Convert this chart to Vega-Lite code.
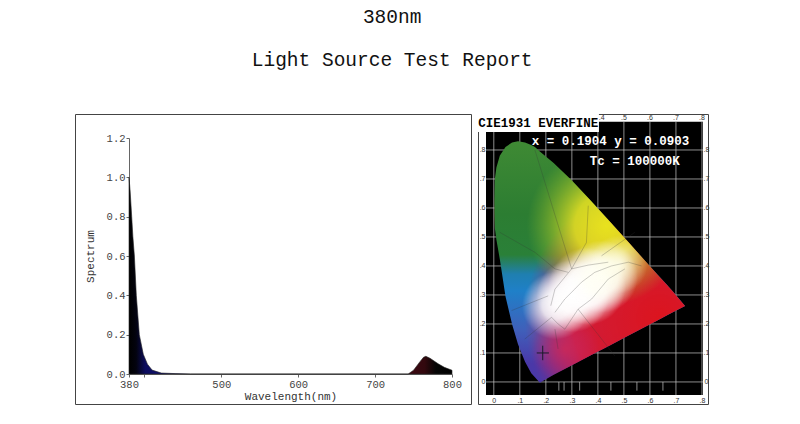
{
"$schema":"https://vega.github.io/schema/vega-lite/v6.json",
"background":"white",
"padding":{"left":74,"top":7,"right":0,"bottom":0},
"title":{"text":["380nm","Light Source Test Report"],"font":"Liberation Mono","fontSize":19.5,"fontWeight":"normal","color":"#111","lineHeight":43,"anchor":"middle","offset":43},
"config":{"view":{"stroke":"#444","strokeWidth":1}},
"spacing":5,
"datasets":{
"spectrum":[
{"wl":380,"v":1.0},{"wl":381.5,"v":0.93},{"wl":383.5,"v":0.8},{"wl":385,"v":0.7},{"wl":387,"v":0.6},{"wl":389.5,"v":0.4},{"wl":393.4,"v":0.2},{"wl":398.6,"v":0.1},{"wl":404,"v":0.05},{"wl":410,"v":0.02},{"wl":422,"v":0.005},{"wl":440,"v":0.002},{"wl":460,"v":0},{"wl":600,"v":0},{"wl":743,"v":0},{"wl":750,"v":0.019},{"wl":758.6,"v":0.064},{"wl":763,"v":0.085},{"wl":766,"v":0.09},{"wl":771.4,"v":0.08},{"wl":782,"v":0.052},{"wl":790,"v":0.034},{"wl":800,"v":0.019}],
"black":[{"x":-0.03,"x2":0.804,"y":-0.045,"y2":0.897}],
"box":[{"x":-0.062,"x2":0.404,"y":0.862,"y2":0.924}],
"grid":[
{"x":0,"x2":0,"y":-0.045,"y2":0.897},{"x":0.1,"x2":0.1,"y":-0.045,"y2":0.897},{"x":0.2,"x2":0.2,"y":-0.045,"y2":0.897},{"x":0.3,"x2":0.3,"y":-0.045,"y2":0.897},{"x":0.4,"x2":0.4,"y":-0.045,"y2":0.897},{"x":0.5,"x2":0.5,"y":-0.045,"y2":0.897},{"x":0.6,"x2":0.6,"y":-0.045,"y2":0.897},{"x":0.7,"x2":0.7,"y":-0.045,"y2":0.897},{"x":0.8,"x2":0.8,"y":-0.045,"y2":0.897},
{"x":-0.03,"x2":0.804,"y":0,"y2":0},{"x":-0.03,"x2":0.804,"y":0.1,"y2":0.1},{"x":-0.03,"x2":0.804,"y":0.2,"y2":0.2},{"x":-0.03,"x2":0.804,"y":0.3,"y2":0.3},{"x":-0.03,"x2":0.804,"y":0.4,"y2":0.4},{"x":-0.03,"x2":0.804,"y":0.5,"y2":0.5},{"x":-0.03,"x2":0.804,"y":0.6,"y2":0.6},{"x":-0.03,"x2":0.804,"y":0.7,"y2":0.7},{"x":-0.03,"x2":0.804,"y":0.8,"y2":0.8},
{"x":0.25,"x2":0.25,"y":0,"y2":-0.03},{"x":0.27,"x2":0.27,"y":0,"y2":-0.03},{"x":0.33,"x2":0.33,"y":0,"y2":-0.03},{"x":0.45,"x2":0.45,"y":0,"y2":-0.03},{"x":0.55,"x2":0.55,"y":0,"y2":-0.03},{"x":0.65,"x2":0.65,"y":0,"y2":-0.03}],
"locus":[
{"x":0.002,"y":0.62,"y2":0.58},{"x":0.004,"y":0.7,"y2":0.53},{"x":0.01,"y":0.74,"y2":0.49},{"x":0.023,"y":0.78,"y2":0.424},{"x":0.045,"y":0.81,"y2":0.295},{"x":0.07,"y":0.826,"y2":0.2},{"x":0.093,"y":0.83,"y2":0.13},{"x":0.12,"y":0.826,"y2":0.07},{"x":0.144,"y":0.817,"y2":0.03},{"x":0.158,"y":0.81,"y2":0.016},{"x":0.177,"y":0.795,"y2":-0.003},{"x":0.23,"y":0.755,"y2":0.025},{"x":0.3,"y":0.695,"y2":0.058},{"x":0.373,"y":0.625,"y2":0.092},{"x":0.444,"y":0.555,"y2":0.125},{"x":0.5125,"y":0.487,"y2":0.158},{"x":0.575,"y":0.424,"y2":0.187},{"x":0.627,"y":0.372,"y2":0.211},{"x":0.666,"y":0.334,"y2":0.23},{"x":0.69,"y":0.31,"y2":0.241},{"x":0.735,"y":0.262,"y2":0.262}],
"guides":[
{"g":"planck","i":1,"x":0.235,"y":0.24},{"g":"planck","i":2,"x":0.273,"y":0.286},{"g":"planck","i":3,"x":0.311,"y":0.32},{"g":"planck","i":4,"x":0.337,"y":0.344},{"g":"planck","i":5,"x":0.388,"y":0.378},{"g":"planck","i":6,"x":0.452,"y":0.4},{"g":"planck","i":7,"x":0.517,"y":0.413},{"g":"planck","i":8,"x":0.568,"y":0.4},
{"g":"loop","i":1,"x":0.219,"y":0.263},{"g":"loop","i":2,"x":0.235,"y":0.32},{"g":"loop","i":3,"x":0.299,"y":0.39},{"g":"loop","i":4,"x":0.363,"y":0.403},{"g":"loop","i":5,"x":0.44,"y":0.413},
{"g":"low","i":1,"x":0.222,"y":0.223},{"g":"low","i":2,"x":0.247,"y":0.2},{"g":"low","i":3,"x":0.273,"y":0.182},{"g":"low","i":4,"x":0.324,"y":0.251},{"g":"low","i":5,"x":0.376,"y":0.286},{"g":"low","i":6,"x":0.44,"y":0.355},{"g":"low","i":7,"x":0.504,"y":0.39},
{"g":"a","i":1,"x":0.363,"y":0.608},{"g":"a","i":2,"x":0.356,"y":0.481},{"g":"a","i":3,"x":0.299,"y":0.39},
{"g":"b","i":1,"x":0.542,"y":0.516},{"g":"b","i":2,"x":0.414,"y":0.435},
{"g":"c","i":1,"x":0.023,"y":0.516},{"g":"c","i":2,"x":0.158,"y":0.447},{"g":"c","i":3,"x":0.235,"y":0.39},{"g":"c","i":4,"x":0.286,"y":0.378},
{"g":"d","i":1,"x":0.068,"y":0.246},{"g":"d","i":2,"x":0.209,"y":0.297},
{"g":"e","i":1,"x":0.119,"y":0.148},{"g":"e","i":2,"x":0.222,"y":0.223},
{"g":"f","i":1,"x":0.247,"y":0.114},{"g":"f","i":2,"x":0.235,"y":0.182},
{"g":"h","i":1,"x":0.324,"y":0.251},{"g":"h","i":2,"x":0.465,"y":0.09},
{"g":"j","i":1,"x":0.158,"y":0.8},{"g":"j","i":2,"x":0.299,"y":0.39}],
"cross":[
{"g":"h","i":1,"x":0.165,"y":0.1},{"g":"h","i":2,"x":0.212,"y":0.1},
{"g":"v","i":1,"x":0.188,"y":0.125},{"g":"v","i":2,"x":0.188,"y":0.075}],
"labels":[
{"t":".4","x":0.415,"y":0.91},{"t":".5","x":0.5,"y":0.91},{"t":".6","x":0.6,"y":0.91},{"t":".7","x":0.7,"y":0.91},{"t":".8","x":0.8,"y":0.91},
{"t":"0","x":0.817,"y":0},{"t":".1","x":0.817,"y":0.1},{"t":".2","x":0.817,"y":0.2},{"t":".3","x":0.817,"y":0.3},{"t":".4","x":0.817,"y":0.4},{"t":".5","x":0.817,"y":0.5},{"t":".6","x":0.817,"y":0.6},{"t":".7","x":0.817,"y":0.7},{"t":".8","x":0.817,"y":0.8}]
},
"hconcat":[
{"width":396,"height":290,
 "data":{"name":"spectrum"},
 "mark":{"type":"area","stroke":"#222","strokeWidth":0.6,"fill":{"gradient":"linear","x1":0,"y1":0,"x2":1,"y2":0,"stops":[{"offset":0,"color":"#000000"},{"offset":0.022,"color":"#03030f"},{"offset":0.05,"color":"#0c0c5e"},{"offset":0.12,"color":"#101070"},{"offset":0.87,"color":"#3c0812"},{"offset":0.915,"color":"#32080e"},{"offset":0.95,"color":"#050505"},{"offset":1,"color":"#000000"}]}},
 "encoding":{
  "x":{"field":"wl","type":"quantitative","scale":{"domain":[380,800],"range":[54,377],"nice":false,"zero":false},
   "axis":{"title":"Wavelength(nm)","values":[380,400,500,600,700,800],"labelExpr":"datum.value==400?'':datum.label","format":"d","offset":-30,"grid":false,"domainColor":"#666","tickColor":"#666","tickSize":3,"labelFont":"Liberation Mono","labelFontSize":10.5,"labelColor":"#444","labelPadding":2,"titleFont":"Liberation Mono","titleFontSize":11,"titleFontWeight":"normal","titleColor":"#333","titlePadding":1,"labelFlush":false}},
  "y":{"field":"v","type":"quantitative","scale":{"domain":[0,1.2],"range":[260,24],"nice":false},
   "axis":{"title":"Spectrum","values":[0,0.2,0.4,0.6,0.8,1,1.2],"format":".1f","offset":-54,"grid":false,"domainColor":"#666","tickColor":"#666","tickSize":3,"labelFont":"Liberation Mono","labelFontSize":10.5,"labelColor":"#444","labelPadding":1,"titleFont":"Liberation Mono","titleFontSize":11,"titleFontWeight":"normal","titleColor":"#333","titlePadding":11}}
 }
},
{"width":230,"height":290,
 "encoding":{
  "x":{"field":"x","type":"quantitative","scale":{"domain":[-0.03,0.804],"range":[8,225],"nice":false,"zero":false},
   "axis":{"title":null,"values":[0,0.1,0.2,0.3,0.4,0.5,0.6,0.7,0.8],"labelExpr":"datum.value==0?'0':replace(format(datum.value,'.1f'),'0.','.')","offset":-9,"grid":false,"domain":false,"ticks":false,"labelPadding":1,"labelFont":"Liberation Sans","labelFontSize":7,"labelColor":"#333"}},
  "y":{"field":"y","type":"quantitative","scale":{"domain":[-0.045,0.862],"range":[281,18],"nice":false,"zero":false},
   "axis":{"title":null,"values":[0,0.1,0.2,0.3,0.4,0.5,0.6,0.7,0.8],"labelExpr":"datum.value==0?'0':replace(format(datum.value,'.1f'),'0.','.')","offset":-8,"grid":false,"domain":false,"ticks":false,"labelPadding":1,"labelFont":"Liberation Sans","labelFontSize":7,"labelColor":"#333"}}
 },
 "layer":[
 {"data":{"name":"black"},"mark":{"type":"rect","fill":"#000"},"encoding":{"x2":{"field":"x2"},"y2":{"field":"y2"}}},
 {"data":{"name":"grid"},"mark":{"type":"rule","stroke":"#c8c8c8","strokeWidth":0.7},"encoding":{"x2":{"field":"x2"},"y2":{"field":"y2"}}},
 {"data":{"name":"locus"},"mark":{"type":"area","fill":{"gradient":"linear","x1":0,"y1":0,"x2":0,"y2":1,"stops":[{"offset":0,"color":"#3f8a34"},{"offset":0.3,"color":"#2c7d32"},{"offset":0.47,"color":"#2a8038"},{"offset":0.55,"color":"#1f7fb0"},{"offset":0.62,"color":"#1f80c8"},{"offset":0.78,"color":"#3f60ba"},{"offset":0.92,"color":"#4a38a8"},{"offset":1,"color":"#4a38a8"}]}},"encoding":{"y2":{"field":"y2"}}},
 {"data":{"name":"locus"},"mark":{"type":"area","fill":{"gradient":"radial","x1":0.79,"y1":0.73,"r1":0,"x2":0.79,"y2":0.73,"r2":0.56,"stops":[{"offset":0,"color":"rgba(220,20,30,1)"},{"offset":0.65,"color":"rgba(215,25,50,0.95)"},{"offset":1,"color":"rgba(205,30,90,0)"}]}},"encoding":{"y2":{"field":"y2"}}},
 {"data":{"name":"locus"},"mark":{"type":"area","fill":{"gradient":"radial","x1":0.57,"y1":0.35,"r1":0,"x2":0.57,"y2":0.35,"r2":0.33,"stops":[{"offset":0,"color":"rgba(232,226,30,1)"},{"offset":0.4,"color":"rgba(225,222,35,0.9)"},{"offset":1,"color":"rgba(150,195,40,0)"}]}},"encoding":{"y2":{"field":"y2"}}},
 {"data":{"name":"locus"},"mark":{"type":"area","fill":{"gradient":"radial","x1":0.4,"y1":0.86,"r1":0,"x2":0.4,"y2":0.86,"r2":0.14,"stops":[{"offset":0,"color":"rgba(205,40,90,0.8)"},{"offset":1,"color":"rgba(190,40,120,0)"}]}},"encoding":{"y2":{"field":"y2"}}},
 {"data":{"name":"locus"},"mark":{"type":"area","fill":{"gradient":"radial","x1":0.36,"y1":0.68,"r1":0,"x2":0.36,"y2":0.68,"r2":0.14,"stops":[{"offset":0,"color":"rgba(255,255,255,0.95)"},{"offset":0.4,"color":"rgba(255,255,255,0.8)"},{"offset":1,"color":"rgba(255,255,255,0)"}]}},"encoding":{"y2":{"field":"y2"}}},
 {"data":{"name":"locus"},"mark":{"type":"area","fill":{"gradient":"radial","x1":0.43,"y1":0.64,"r1":0,"x2":0.43,"y2":0.64,"r2":0.15,"stops":[{"offset":0,"color":"rgba(255,255,255,1)"},{"offset":0.45,"color":"rgba(255,255,255,0.85)"},{"offset":1,"color":"rgba(255,255,255,0)"}]}},"encoding":{"y2":{"field":"y2"}}},
 {"data":{"name":"locus"},"mark":{"type":"area","fill":{"gradient":"radial","x1":0.49,"y1":0.6,"r1":0,"x2":0.49,"y2":0.6,"r2":0.16,"stops":[{"offset":0,"color":"rgba(255,255,255,1)"},{"offset":0.5,"color":"rgba(255,255,255,0.85)"},{"offset":1,"color":"rgba(255,255,255,0)"}]}},"encoding":{"y2":{"field":"y2"}}},
 {"data":{"name":"locus"},"mark":{"type":"area","fill":{"gradient":"radial","x1":0.55,"y1":0.56,"r1":0,"x2":0.55,"y2":0.56,"r2":0.15,"stops":[{"offset":0,"color":"rgba(255,255,245,1)"},{"offset":0.45,"color":"rgba(255,255,245,0.85)"},{"offset":1,"color":"rgba(255,255,255,0)"}]}},"encoding":{"y2":{"field":"y2"}}},
 {"data":{"name":"locus"},"mark":{"type":"area","fill":{"gradient":"radial","x1":0.62,"y1":0.51,"r1":0,"x2":0.62,"y2":0.51,"r2":0.12,"stops":[{"offset":0,"color":"rgba(255,255,235,0.9)"},{"offset":1,"color":"rgba(255,255,235,0)"}]}},"encoding":{"y2":{"field":"y2"}}},
 {"data":{"name":"guides"},"mark":{"type":"line","stroke":"#333","strokeWidth":0.5,"opacity":0.5},"encoding":{"detail":{"field":"g"},"order":{"field":"i"}}},
 {"data":{"name":"cross"},"mark":{"type":"line","stroke":"#1a1a2a","strokeWidth":1},"encoding":{"detail":{"field":"g"},"order":{"field":"i"}}},
 {"data":{"name":"box"},"mark":{"type":"rect","fill":"#fff"},"encoding":{"x2":{"field":"x2"},"y2":{"field":"y2"}}},
 {"data":{"name":"labels"},"mark":{"type":"text","font":"Liberation Sans","fontSize":7,"fill":"#333"},"encoding":{"text":{"field":"t"}}},
 {"data":{"values":[{"t":"CIE1931 EVERFINE","x":-0.06,"y":0.892}]},"mark":{"type":"text","font":"Liberation Mono","fontWeight":"bold","fontSize":12.5,"fill":"#000","align":"left"},"encoding":{"text":{"field":"t"}}},
 {"data":{"values":[{"t":"x = 0.1904 y = 0.0903","x":0.146,"y":0.83},{"t":"Tc = 100000K","x":0.369,"y":0.763}]},"mark":{"type":"text","font":"Liberation Mono","fontWeight":"bold","fontSize":12.5,"fill":"#fff","align":"left"},"encoding":{"text":{"field":"t"}}}
 ]
}
]
}
